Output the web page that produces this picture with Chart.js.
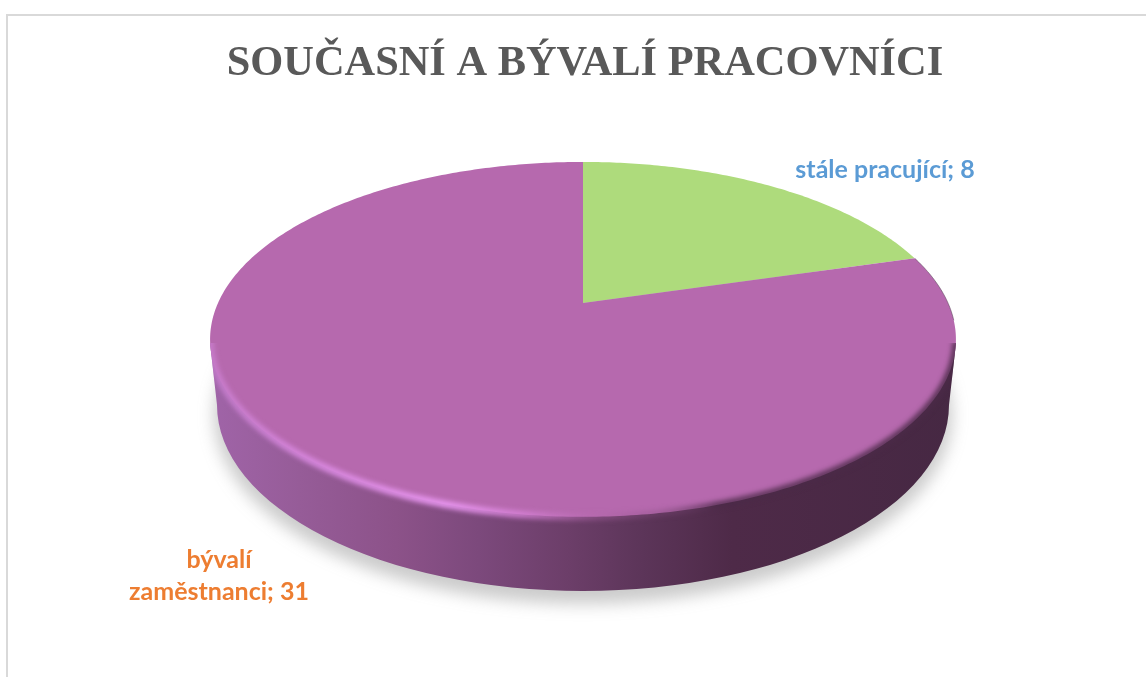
<!DOCTYPE html>
<html><head><meta charset="utf-8">
<style>
html,body{margin:0;padding:0;background:#fff;overflow:hidden}
#frame{position:absolute;left:6px;top:14px;width:1140px;height:663px;border-left:2px solid #d9d9d9;border-top:2px solid #d9d9d9;box-sizing:border-box}
canvas{position:absolute;left:0;top:0}
</style>
<script src="https://cdn.jsdelivr.net/npm/chart.js@4"></script>
</head><body>
<div id="frame"></div>
<canvas id="c" width="1146" height="677"></canvas>
<script>
const titleText = "SOUČASNÍ A BÝVALÍ PRACOVNÍCI";
const categories = ["stále pracující", "bývalí zaměstnanci"];
const values = [8, 31];
const sliceColors = ["#aedb7c", "#b669ae"];
const labelColors = ["#5b9bd5", "#ed7d31"];

// tilted-disc projection of the library's arcs
const P = {cx:583, cy:303, A:365, B:170, c:0.205};
function proj(theta, rr){           // theta: chart angle (radians), rr: 0..1
  const u = rr*Math.cos(theta), v = rr*Math.sin(theta);
  const w = 1 - P.c*v;
  return [P.cx + P.A*u/w, P.cy + P.B*v/w];
}
function arcPath(ctx, a0, a1, close){
  const n = Math.max(8, Math.ceil(Math.abs(a1-a0)*80));
  ctx.beginPath();
  if (close) { ctx.moveTo(P.cx, P.cy); }
  for (let i=0;i<=n;i++){
    const p = proj(a0+(a1-a0)*i/n, 1);
    if (i===0 && !close) ctx.moveTo(p[0],p[1]); else ctx.lineTo(p[0],p[1]);
  }
  if (close) ctx.closePath();
}

const BOT = {cx:583, cy:405, rx:366, ry:186};
function wallPath(ctx){
  ctx.beginPath();
  ctx.ellipse(BOT.cx, BOT.cy, BOT.rx, BOT.ry, 0, 0, Math.PI);
  ctx.lineTo(210,343); ctx.lineTo(956,343); ctx.closePath();
}
const tilted = {
  id:'tilted',
  beforeDatasetDraw(chart, args){
    const ctx = chart.ctx, arcs = chart.getDatasetMeta(args.index).data;
    // ground shadow
    ctx.save();
    ctx.filter = 'blur(8px)';
    ctx.fillStyle = 'rgba(110,110,110,.36)';
    ctx.beginPath();
    ctx.ellipse(BOT.cx, BOT.cy+10, BOT.rx+3, BOT.ry+3, 0, 0, Math.PI*2);
    ctx.fill();
    ctx.restore();
    // side wall
    const g = ctx.createLinearGradient(210,0,956,0);
    [[0,'#a064a8'],[.12,'#965c98'],[.25,'#8c5289'],[.36,'#7c497c'],[.48,'#6c3e69'],[.58,'#5c3559'],[.7,'#4e2a48'],[1,'#462843']]
      .forEach(s=>g.addColorStop(s[0],s[1]));
    ctx.fillStyle = g;
    wallPath(ctx);
    ctx.fill();
    // top face, slice by slice, from the library's arc angles
    arcs.forEach((a,i)=>{
      ctx.fillStyle = sliceColors[i];
      arcPath(ctx, a.startAngle, a.endAngle, true);
      ctx.fill();
    });
    // rim
    ctx.save();
    wallPath(ctx);
    ctx.clip();
    const h = ctx.createLinearGradient(210,0,956,0);
    [[0,'rgba(205,130,212,.75)'],[.12,'rgba(215,135,222,.95)'],[.32,'rgba(232,150,240,1)'],[.42,'rgba(215,130,215,.85)'],[.52,'rgba(182,105,174,.4)'],[.6,'rgba(130,75,125,.35)'],[.68,'rgba(75,42,72,.8)'],[1,'rgba(75,42,72,.85)']]
      .forEach(s=>h.addColorStop(s[0],s[1]));
    ctx.filter='blur(2.5px)';
    ctx.strokeStyle=h; ctx.lineWidth=7;
    arcPath(ctx, 0.22, Math.PI+0.1, false);
    ctx.stroke();
    ctx.restore();
    // thin outline on the upper right
    ctx.strokeStyle='rgba(90,70,90,.55)'; ctx.lineWidth=1;
    arcPath(ctx, -0.28, 0.1, false);
    ctx.stroke();
    return false;
  },
  afterDraw(chart){
    const ctx = chart.ctx;
    ctx.save();
    ctx.font = 'bold 25px Lato';
    ctx.textAlign = 'center';
    ctx.textBaseline = 'alphabetic';
    ctx.fillStyle = labelColors[0];
    ctx.fillText(categories[0]+'; '+values[0], 885, 178);
    ctx.fillStyle = labelColors[1];
    const w = categories[1].split(' ');
    ctx.fillText(w[0], 219, 568);
    ctx.fillText(w[1]+'; '+values[1], 219, 600);
    ctx.restore();
  }
};

new Chart(document.getElementById('c'),{
  type:'pie',
  data:{labels:categories,datasets:[{data:values,backgroundColor:sliceColors,borderWidth:0}]},
  plugins:[tilted],
  options:{
    responsive:false,animation:false,
    layout:{padding:{left:24,top:39}},
    plugins:{
      legend:{display:false},tooltip:{enabled:false},
      title:{display:true,text:titleText,color:'#595959',font:{family:'"Liberation Serif"',size:42.4,weight:'bold'},padding:0}
    }
  }
});
</script>
</body></html>
